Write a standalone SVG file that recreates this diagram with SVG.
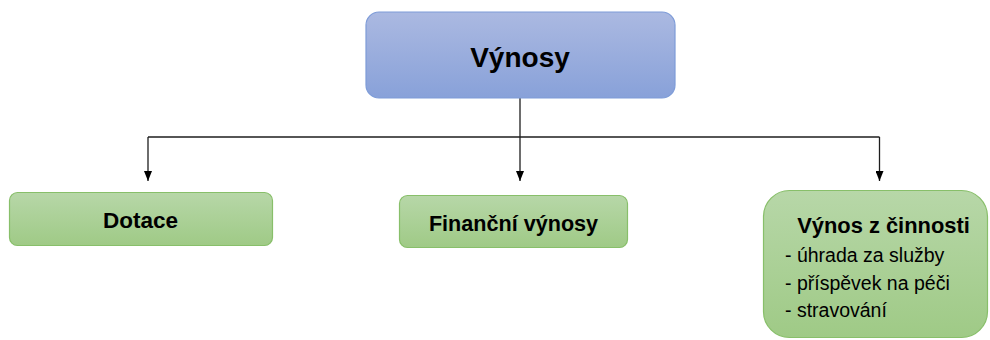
<svg xmlns="http://www.w3.org/2000/svg" width="990" height="340" viewBox="0 0 990 340">
  <defs>
    <linearGradient id="blueFill" x1="0" y1="0" x2="0" y2="1">
      <stop offset="0" stop-color="#abb9e1"/>
      <stop offset="1" stop-color="#88a1d9"/>
    </linearGradient>
    <linearGradient id="greenFill" x1="0" y1="0" x2="0" y2="1">
      <stop offset="0" stop-color="#b7d7a8"/>
      <stop offset="1" stop-color="#9fca86"/>
    </linearGradient>
    <!-- arrowhead drawn along +x so orient="auto" turns it to the line direction -->
    <marker id="arrow" markerWidth="10" markerHeight="8" refX="10" refY="4" orient="auto" markerUnits="userSpaceOnUse" viewBox="0 0 10 8">
      <path d="M0,0 L10,4 L0,8 Z" fill="#000"/>
    </marker>
  </defs>
  <style>
    .root { fill: url(#blueFill); stroke: #7e9cd8; stroke-width: 1.2; }
    .leaf { fill: url(#greenFill); stroke: #88bf6a; stroke-width: 1.2; }
    .title { font-family: "Liberation Sans", Arial, sans-serif; font-weight: bold; fill: #000; }
    .item { font-family: "Liberation Sans", Arial, sans-serif; font-size: 19.5px; fill: #000; }
    .conn { fill: none; stroke: #1e1e1e; stroke-width: 1.3; }
  </style>

  <g id="connectors">
    <path class="conn" d="M520,98 V137"/>
    <path class="conn" d="M148,137 H879.5"/>
    <path class="conn" d="M148,137 V181" marker-end="url(#arrow)"/>
    <path class="conn" d="M520,137 V181" marker-end="url(#arrow)"/>
    <path class="conn" d="M879.5,137 V181" marker-end="url(#arrow)"/>
  </g>

  <g id="vynosy">
    <rect class="root" x="366" y="12" width="309" height="86" rx="13"/>
    <text class="title" x="520" y="67" font-size="28" text-anchor="middle">Výnosy</text>
  </g>

  <g id="dotace">
    <rect class="leaf" x="9.5" y="192.5" width="263" height="53" rx="8"/>
    <text class="title" x="140.5" y="228" font-size="22.5" text-anchor="middle">Dotace</text>
  </g>

  <g id="financni-vynosy">
    <rect class="leaf" x="399.5" y="195.5" width="228" height="52" rx="8"/>
    <text class="title" x="513.5" y="231" font-size="21.6" text-anchor="middle">Finanční výnosy</text>
  </g>

  <g id="vynos-z-cinnosti">
    <rect class="leaf" x="763.5" y="190.5" width="224" height="147" rx="26"/>
    <text class="title" x="883.5" y="233" font-size="21.9" text-anchor="middle">Výnos z činnosti</text>
    <text class="item" x="785" y="262">- úhrada za služby</text>
    <text class="item" x="785" y="290">- příspěvek na péči</text>
    <text class="item" x="785" y="317">- stravování</text>
  </g>
</svg>
